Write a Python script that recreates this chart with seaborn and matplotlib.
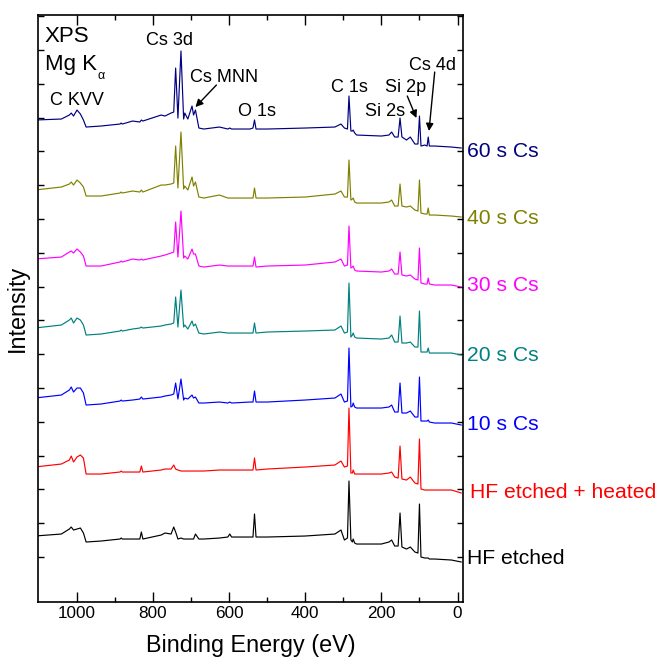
import numpy as np
import pandas as pd
import seaborn as sns
import matplotlib as mpl
mpl.use('Agg')
import matplotlib.pyplot as plt
from matplotlib import transforms

sns.set_theme(style='ticks')
plt.rcParams['font.family'] = ['Liberation Sans', 'DejaVu Sans']
plt.rcParams['text.color'] = 'black'
plt.rcParams['axes.labelcolor'] = 'black'

# binding energy grid (eV), shared by all spectra
ev = [1110, 1040, 1019, 1014, 1008, 999, 990, 982, 975, 936,
      886, 883, 880, 853, 834, 830, 826, 778, 768, 752,
      745, 740, 734, 726, 719, 716, 708, 697, 693, 688,
      679, 666, 625, 603, 598, 593, 545, 537, 533, 529,
      500, 400, 322, 306, 297, 289, 285, 280, 276, 274,
      270, 265, 200, 180, 173, 165, 156, 151, 146, 134,
      124, 112, 104, 100, 96, 86, 80, 77, 74, 60,
      16, -10]

# intensities (arb. units)
hf_etched = [26, 28, 33, 35, 32, 33, 34, 29, 20, 21,
             23, 24, 23, 23, 23, 30, 23, 27, 29, 28,
             35, 30, 23, 24, 23, 23, 23, 23, 23, 28,
             23, 23, 24, 25, 28, 25, 25, 25, 48, 25,
             25, 26, 28, 32, 22, 24, 81, 22, 20, 23,
             19, 18, 18, 20, 22, 16, 16, 49, 15, 13,
             15, 10, 9, 58, 5, 4, 4, 4, 3, 3,
             2, 0]
hf_heated = [26, 29, 33, 37, 31, 36, 38, 35, 19, 19,
             21, 22, 21, 21, 21, 27, 21, 23, 24, 24,
             28, 24, 23, 22, 22, 22, 22, 22, 22, 22,
             22, 22, 23, 23, 23, 23, 23, 23, 35, 23,
             24, 26, 28, 32, 26, 27, 85, 20, 20, 23,
             19, 19, 19, 20, 21, 16, 15, 47, 14, 13,
             16, 10, 9, 54, 4, 3, 3, 3, 3, 3,
             3, 0]
cs_10s = [27, 30, 35, 38, 33, 37, 37, 32, 20, 21,
          24, 25, 24, 25, 26, 28, 26, 28, 29, 30,
          31, 42, 26, 46, 25, 27, 26, 30, 27, 28,
          22, 22, 23, 22, 23, 22, 23, 23, 34, 23,
          23, 25, 27, 31, 23, 24, 77, 18, 19, 22,
          18, 17, 17, 18, 20, 13, 13, 42, 12, 12,
          14, 8, 8, 48, 4, 4, 4, 5, 3, 2,
          2, 0]
cs_20s = [27, 30, 35, 37, 32, 37, 35, 30, 20, 21,
          24, 25, 24, 26, 27, 28, 27, 29, 30, 31,
          32, 58, 28, 65, 28, 30, 26, 34, 29, 31,
          22, 21, 23, 22, 22, 22, 22, 22, 32, 22,
          23, 24, 25, 29, 22, 23, 72, 18, 20, 22,
          18, 17, 16, 17, 20, 13, 13, 39, 12, 12,
          13, 8, 8, 44, 3, 3, 3, 7, 2, 2,
          2, 0]
cs_30s = [28, 30, 35, 36, 34, 38, 35, 31, 21, 21,
          25, 26, 25, 28, 27, 28, 27, 31, 32, 34,
          35, 65, 30, 76, 29, 31, 28, 38, 33, 33,
          21, 20, 22, 21, 21, 21, 21, 21, 30, 20,
          21, 22, 25, 28, 21, 22, 61, 19, 20, 21,
          17, 16, 15, 16, 18, 13, 13, 35, 12, 11,
          12, 8, 7, 39, 4, 3, 3, 9, 3, 2,
          2, 0]
cs_40s = [27, 30, 33, 35, 32, 37, 34, 30, 21, 21,
          24, 25, 24, 26, 25, 27, 25, 32, 32, 33,
          34, 71, 29, 85, 28, 31, 27, 40, 31, 35,
          20, 19, 22, 19, 19, 19, 19, 19, 29, 19,
          19, 20, 23, 26, 20, 20, 57, 17, 18, 19,
          15, 14, 14, 15, 17, 11, 11, 33, 11, 10,
          11, 7, 6, 37, 4, 3, 3, 9, 2, 2,
          1, 0]
cs_60s = [28, 29, 33, 35, 32, 38, 34, 28, 21, 22,
          24, 25, 24, 27, 26, 28, 27, 33, 32, 35,
          36, 80, 30, 97, 29, 35, 29, 42, 33, 38,
          20, 19, 21, 19, 20, 19, 19, 20, 28, 19,
          19, 20, 21, 24, 20, 19, 52, 17, 17, 18,
          15, 13, 12, 13, 16, 11, 11, 30, 11, 8,
          11, 4, 4, 32, 2, 3, 2, 11, 2, 2,
          1, 0]

samples = ['HF etched', 'HF etched + heated', '10 s Cs', '20 s Cs',
           '30 s Cs', '40 s Cs', '60 s Cs']
spectra = [hf_etched, hf_heated, cs_10s, cs_20s, cs_30s, cs_40s, cs_60s]
stack_offset = [40, 109, 177, 247, 315, 385, 454]

# peak labels: text, energy, height
peak_names = ['C KVV', 'Cs 3d', 'Cs MNN', 'O 1s', 'C 1s', 'Si 2s', 'Si 2p', 'Cs 4d']
peak_ev = [998, 757, 613, 527, 283, 191, 137, 65]
peak_y = [497, 557, 520, 486, 510, 486, 510, 532]

colors = ['#000000', '#FF0000', '#0000FF', '#008080', '#FF00FF', '#808000', '#000080']

frames = []
for name, counts, off in zip(samples, spectra, stack_offset):
    frames.append(pd.DataFrame({'ev': ev,
                                'signal': np.array(counts, float) + off,
                                'sample': name}))
df = pd.concat(frames, ignore_index=True)

fig = plt.figure(figsize=(6.58, 6.65), dpi=100)
ax = fig.add_axes([0.0585, 0.0947, 0.6444, 0.8827])

sns.lineplot(data=df, x='ev', y='signal', hue='sample',
             palette=dict(zip(samples, colors)), estimator=None,
             sort=False, legend=False, lw=0.85, ax=ax)

ax.set_xlim(1100, -13)
ax.set_ylim(0, 587)
ax.set_xticks([1000, 800, 600, 400, 200, 0])
ax.set_xticks(np.arange(900, -1, -200), minor=True)
ax.set_yticks(np.arange(45, 587, 33.8))
ax.tick_params(axis='both', which='both', direction='in', top=True, right=True,
               width=1.0, colors='black', labelsize=12.3, pad=3)
ax.tick_params(axis='x', which='major', length=7)
ax.tick_params(axis='x', which='minor', length=3.5)
ax.tick_params(axis='y', length=4, labelleft=False)
for sp in ax.spines.values():
    sp.set_linewidth(1.2)
    sp.set_color('black')

ax.set_xlabel('Binding Energy (eV)', fontsize=16.8, labelpad=9)
ax.set_ylabel('Intensity', fontsize=16.8, labelpad=7)

# sample names at the right end of each trace
label_y = [44, 110, 178, 247, 317, 384, 451]
trans = transforms.blended_transform_factory(ax.transAxes, ax.transData)
for name, c, ly in zip(samples, colors, label_y):
    xx = 1.017 if name == 'HF etched + heated' else 1.010
    ax.text(xx, ly, name, color=c, fontsize=15.2, ha='left', va='center',
            transform=trans, clip_on=False)

for name, x, y in zip(peak_names, peak_ev, peak_y):
    ax.text(x, y, name, fontsize=13, ha='center', va='baseline')

ax.text(0.0153, 0.9535, 'XPS', fontsize=16, transform=ax.transAxes, va='baseline')
ax.text(0.0153, 0.9063, 'Mg K', fontsize=16, transform=ax.transAxes, va='baseline')
ax.text(0.1403, 0.891, '\u03b1', fontsize=9, transform=ax.transAxes, va='baseline')

arrow = dict(arrowstyle='-|>', color='black', lw=1.0, mutation_scale=11,
             shrinkA=0, shrinkB=0)
ax.annotate('', xy=(688, 495), xytext=(633, 517), arrowprops=arrow)
ax.annotate('', xy=(108, 484), xytext=(132, 506), arrowprops=arrow)
ax.annotate('', xy=(75, 471), xytext=(60, 530), arrowprops=arrow)

fig.savefig('out.png', dpi=100)
